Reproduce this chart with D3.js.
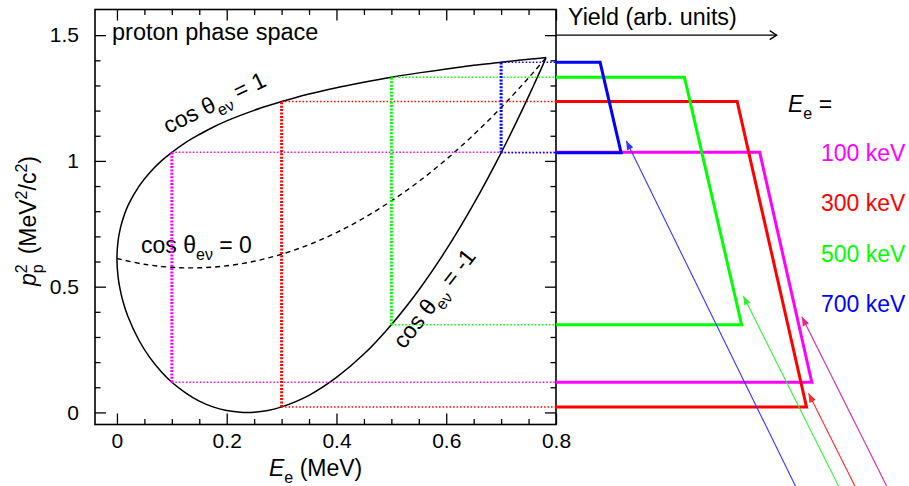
<!DOCTYPE html>
<html>
<head>
<meta charset="utf-8">
<script src="https://cdn.jsdelivr.net/npm/d3@7"></script>
<style>
  body { margin: 0; background: #fff; }
  svg { display: block; font-family: "Liberation Sans", Arial, Helvetica, sans-serif; }
</style>
</head>
<body>
<svg id="chart"></svg>
<script>
// Phase space boundary: electron kinetic energy (MeV) and proton p^2 (MeV^2/c^2)
const boundaryE = [0, 0.002, 0.005, 0.01, 0.02, 0.04, 0.06, 0.08, 0.1, 0.125, 0.15, 0.175, 0.2, 0.225,
                   0.25, 0.275, 0.3, 0.35, 0.4, 0.45, 0.5, 0.55, 0.6, 0.65, 0.7, 0.74, 0.76, 0.775, 0.782];
const cosPlusOne = [0.612, 0.681, 0.720, 0.763, 0.822, 0.899, 0.954, 0.998, 1.034, 1.073, 1.105, 1.134, 1.159, 1.181,
                    1.201, 1.219, 1.236, 1.266, 1.291, 1.313, 1.333, 1.350, 1.365, 1.380, 1.392, 1.402, 1.406, 1.409, 1.411];
const cosMinusOne = [0.612, 0.540, 0.498, 0.449, 0.381, 0.287, 0.218, 0.164, 0.120, 0.078, 0.045, 0.022, 0.008, 0.001,
                     0.001, 0.008, 0.022, 0.068, 0.139, 0.232, 0.349, 0.487, 0.647, 0.829, 1.032, 1.210, 1.304, 1.376, 1.411];
// cos = 0 curve (dashed)
const zeroE = [0, 0.05, 0.1, 0.15, 0.2, 0.25, 0.3, 0.35, 0.4, 0.45, 0.5, 0.55, 0.6, 0.65, 0.7, 0.74, 0.76, 0.782];
const cosZero = [0.612, 0.589, 0.577, 0.575, 0.583, 0.601, 0.629, 0.667, 0.715, 0.773, 0.841, 0.918, 1.006, 1.104,
                 1.212, 1.306, 1.355, 1.411];

// Selected electron energies
const energies = [0.1, 0.3, 0.5, 0.7];
const energyLabels = ["100 keV", "300 keV", "500 keV", "700 keV"];
const p2Max = [1.034, 1.236, 1.333, 1.392];
const p2Min = [0.120, 0.022, 0.349, 1.032];

// Yield trapezoids (arb. units) at upper / lower p^2 edge
const yieldTop = [9.23, 8.21, 5.82, 2.0];
const yieldBottom = [11.59, 11.35, 8.41, 2.95];

// Arrows pointing at the trapezoids: tip and tail as (yield, p^2)
const arrowTipYield = [11.14, 11.44, 8.49, 3.18];
const arrowTipP2 = [0.380, 0.076, 0.463, 1.080];
const arrowTailYield = [15.31, 13.87, 13.13, 11.17];
const arrowTailP2 = [-0.35, -0.35, -0.35, -0.35];

const xMajor = [0, 0.2, 0.4, 0.6, 0.8];
const yMajor = [0, 0.5, 1, 1.5];

// colours
const colors = ["#ff00ff", "#ff0000", "#00ff00", "#0000ff"];
const arrowColors = ["#e3268d", "#ff2a2a", "#33ee33", "#3535ff"];

const w = 909, h = 486;
const padLeft = 95, padRight = 556, padTop = 9.5, padBottom = 424.5;

const svg = d3.select("#chart").attr("width", w).attr("height", h);
svg.append("rect").attr("width", w).attr("height", h).attr("fill", "#fff");

// Scales
const x = d3.scaleLinear().domain([-0.04, 0.8]).range([padLeft, padRight]);
const y = d3.scaleLinear().domain([-0.048, 1.602]).range([padBottom, padTop]);
const yieldScale = d3.scaleLinear().domain([0, 10]).range([padRight, 776.7]);

const xMinor = d3.range(1, 16).map(i => i * 0.05).filter(v => !xMajor.some(m => Math.abs(m - v) < 1e-6));
const yMinor = d3.range(1, 16).map(i => i * 0.1).filter(v => !yMajor.some(m => Math.abs(m - v) < 1e-6));

// Axes (ticks inside, on all four sides)
function styleAxis(g){
  g.select(".domain").remove();
  g.selectAll("line").attr("stroke", "#000").attr("stroke-width", 1.3);
  g.selectAll("text").attr("font-size", 21).attr("fill", "#000");
  g.attr("font-family", null).attr("font-size", null);
}

svg.append("g").attr("transform", `translate(0,${padBottom})`)
   .call(d3.axisBottom(x).tickValues(xMajor).tickSize(-11).tickPadding(8.5).tickFormat(d3.format("")))
   .call(styleAxis);
svg.append("g").attr("transform", `translate(0,${padBottom})`)
   .call(d3.axisBottom(x).tickValues(xMinor).tickSize(-5.5).tickFormat(""))
   .call(styleAxis);
svg.append("g").attr("transform", `translate(0,${padTop})`)
   .call(d3.axisTop(x).tickValues(xMajor).tickSize(-11).tickFormat(""))
   .call(styleAxis);
svg.append("g").attr("transform", `translate(0,${padTop})`)
   .call(d3.axisTop(x).tickValues(xMinor).tickSize(-5.5).tickFormat(""))
   .call(styleAxis);

svg.append("g").attr("transform", `translate(${padLeft},0)`)
   .call(d3.axisLeft(y).tickValues(yMajor).tickSize(-11).tickPadding(16).tickFormat(d3.format("")))
   .call(styleAxis);
svg.append("g").attr("transform", `translate(${padLeft},0)`)
   .call(d3.axisLeft(y).tickValues(yMinor).tickSize(-5.5).tickFormat(""))
   .call(styleAxis);
svg.append("g").attr("transform", `translate(${padRight},0)`)
   .call(d3.axisRight(y).tickValues(yMajor).tickSize(-11).tickFormat(""))
   .call(styleAxis);
svg.append("g").attr("transform", `translate(${padRight},0)`)
   .call(d3.axisRight(y).tickValues(yMinor).tickSize(-5.5).tickFormat(""))
   .call(styleAxis);

// Frame
svg.append("rect")
   .attr("x", padLeft).attr("y", padTop)
   .attr("width", padRight - padLeft).attr("height", padBottom - padTop)
   .attr("fill", "none").attr("stroke", "#000").attr("stroke-width", 1.6);

// Phase space boundary curves
const line = d3.line().x(d => x(d[0])).y(d => y(d[1])).curve(d3.curveCatmullRom.alpha(0.5));

const upperPts = boundaryE.map((e, i) => [e, cosPlusOne[i]]);
const lowerPts = boundaryE.map((e, i) => [e, cosMinusOne[i]]);
const boundary = upperPts.slice().reverse().concat(lowerPts.slice(1));

svg.append("path")
   .attr("d", line(boundary))
   .attr("fill", "none").attr("stroke", "#000").attr("stroke-width", 1.5);

svg.append("path")
   .attr("d", line(zeroE.map((e, i) => [e, cosZero[i]])))
   .attr("fill", "none").attr("stroke", "#000").attr("stroke-width", 1.4)
   .attr("stroke-dasharray", "5,4");

// cos theta labels
function cosLabel(value, tx, ty, angle){
  const t = svg.append("text")
     .attr("transform", `translate(${tx},${ty}) rotate(${angle})`)
     .attr("font-size", 23).attr("fill", "#000");
  t.append("tspan").text("cos θ");
  t.append("tspan").attr("font-size", 16).attr("dy", 7).text("eν");
  t.append("tspan").attr("dy", -7).text(" = " + value);
}
cosLabel("1", 168, 134, -26);
cosLabel("0", 141, 253, 0);
cosLabel("-1", 404, 350, -52);

svg.append("text").attr("x", 112).attr("y", 40)
   .attr("font-size", 23.5).text("proton phase space");

// Dotted guide lines
energies.forEach((e, i) => {
  svg.append("line")
     .attr("x1", x(e)).attr("x2", x(0.8))
     .attr("y1", y(p2Max[i])).attr("y2", y(p2Max[i]))
     .attr("stroke", colors[i]).attr("stroke-width", 1.5).attr("stroke-dasharray", "1.5,2");
  svg.append("line")
     .attr("x1", x(e)).attr("x2", x(0.8))
     .attr("y1", y(p2Min[i])).attr("y2", y(p2Min[i]))
     .attr("stroke", colors[i]).attr("stroke-width", 1.5).attr("stroke-dasharray", "1.5,2");
});
energies.forEach((e, i) => {
  svg.append("line")
     .attr("x1", x(e)).attr("x2", x(e))
     .attr("y1", y(p2Min[i])).attr("y2", y(p2Max[i]))
     .attr("stroke", colors[i]).attr("stroke-width", 3).attr("stroke-dasharray", "2,1.4");
});

// Yield panel
const yAxisY = y(1.5);
svg.append("line")
   .attr("x1", yieldScale(0)).attr("x2", yieldScale(10))
   .attr("y1", yAxisY).attr("y2", yAxisY)
   .attr("stroke", "#000").attr("stroke-width", 1.3);
svg.append("path")
   .attr("d", `M${yieldScale(10) - 7},${yAxisY - 4.5}L${yieldScale(10)},${yAxisY}L${yieldScale(10) - 7},${yAxisY + 4.5}`)
   .attr("fill", "none").attr("stroke", "#000").attr("stroke-width", 1.3);
svg.append("text").attr("x", 568).attr("y", 25)
   .attr("font-size", 23.3).text("Yield (arb. units)");

energies.forEach((e, i) => {
  const pts = [[0, p2Max[i]], [yieldTop[i], p2Max[i]], [yieldBottom[i], p2Min[i]], [0, p2Min[i]]];
  svg.append("path")
     .attr("d", d3.line().x(d => yieldScale(d[0])).y(d => y(d[1]))(pts))
     .attr("fill", "none").attr("stroke", colors[i]).attr("stroke-width", 3)
     .attr("stroke-linejoin", "miter");
});

// Arrows
const defs = svg.append("defs");
arrowColors.forEach((c, i) => {
  defs.append("marker")
      .attr("id", "head" + i)
      .attr("viewBox", "-10 -5 10 10")
      .attr("refX", 0).attr("refY", 0)
      .attr("markerWidth", 10).attr("markerHeight", 10)
      .attr("markerUnits", "userSpaceOnUse")
      .attr("orient", "auto")
    .append("path")
      .attr("d", "M0,0L-9,-3.5L-9,3.5Z")
      .attr("fill", c);
});
energies.forEach((e, i) => {
  svg.append("line")
     .attr("x1", yieldScale(arrowTailYield[i])).attr("y1", y(arrowTailP2[i]))
     .attr("x2", yieldScale(arrowTipYield[i])).attr("y2", y(arrowTipP2[i]))
     .attr("stroke", arrowColors[i]).attr("stroke-width", 1.1)
     .attr("marker-end", `url(#head${i})`);
});

// Legend
const eLabel = svg.append("text").attr("x", 788).attr("y", 112).attr("font-size", 23);
eLabel.append("tspan").attr("font-style", "italic").text("E");
eLabel.append("tspan").attr("font-size", 16).attr("dy", 7).text("e");
eLabel.append("tspan").attr("dy", -7).text(" =");

energyLabels.forEach((lab, i) => {
  svg.append("text")
     .attr("x", 821).attr("y", 161 + i * 50.4)
     .attr("font-size", 23).attr("fill", colors[i])
     .text(lab);
});

// Axis titles
const xTitle = svg.append("text").attr("x", 269).attr("y", 476).attr("font-size", 23);
xTitle.append("tspan").attr("font-style", "italic").text("E");
xTitle.append("tspan").attr("font-size", 16).attr("dy", 7).text("e");
xTitle.append("tspan").attr("dy", -7).text(" (MeV)");

const yTitle = svg.append("text")
   .attr("transform", "translate(36,221) rotate(-90)")
   .attr("text-anchor", "middle").attr("font-size", 23);
yTitle.append("tspan").attr("font-style", "italic").text("p");
yTitle.append("tspan").attr("font-size", 16).attr("dy", -9).text("2");
yTitle.append("tspan").attr("font-size", 16).attr("dx", -9).attr("dy", 16).text("p");
yTitle.append("tspan").attr("dx", 10).attr("dy", -7).text("(MeV");
yTitle.append("tspan").attr("font-size", 16).attr("dy", -9).text("2");
yTitle.append("tspan").attr("dy", 9).text("/c");
yTitle.append("tspan").attr("font-size", 16).attr("dy", -9).text("2");
yTitle.append("tspan").attr("dy", 9).text(")");
</script>
</body>
</html>
